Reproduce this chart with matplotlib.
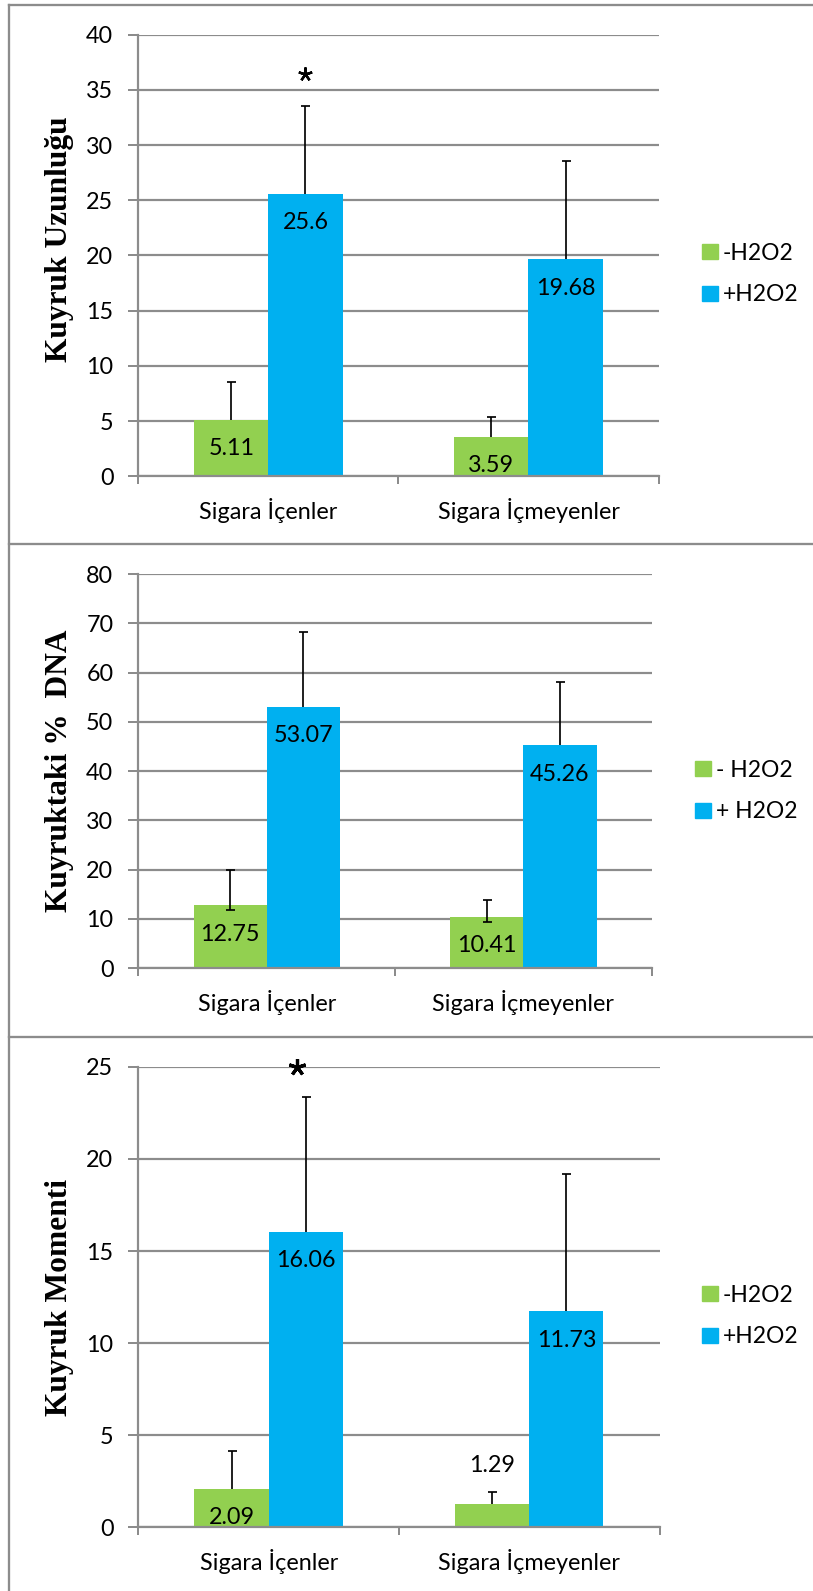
import matplotlib
matplotlib.use("Agg")
import matplotlib.pyplot as plt
import numpy as np
from matplotlib.lines import Line2D
from matplotlib.patches import Patch
from matplotlib.transforms import ScaledTranslation

plt.rcParams["font.family"] = ["Lato", "DejaVu Sans"]

DPI = 100
W, H = 813, 1591

categories = ["Sigara İçenler", "Sigara İçmeyenler"]

# Kuyruk uzunluğu
len_minus = [5.11, 3.59]
len_plus = [25.6, 19.68]
len_minus_err_lo = [0.0, 0.0]
len_minus_err_hi = [3.46, 1.78]
len_plus_err_hi = [7.93, 8.84]

# Kuyruktaki % DNA
dna_minus = [12.75, 10.41]
dna_plus = [53.07, 45.26]
dna_minus_err_lo = [0.97, 1.05]
dna_minus_err_hi = [7.12, 3.46]
dna_plus_err_hi = [15.21, 12.92]

# Kuyruk momenti
mom_minus = [2.09, 1.29]
mom_plus = [16.06, 11.73]
mom_minus_err_lo = [0.0, 0.0]
mom_minus_err_hi = [2.03, 0.65]
mom_plus_err_hi = [7.29, 7.48]

GREEN = "#92D050"
BLUE = "#00B0F0"
GRAY = "#8c8c8c"
BAR_W = 0.285
FS = 16.8
LEG_FS = 16.5


def px(v):
    return v * 72.0 / DPI


fig = plt.figure(figsize=(W / DPI, H / DPI), dpi=DPI)


def fig_rect(left, top, right, bottom):
    return [left / W, 1 - bottom / H, (right - left) / W, (bottom - top) / H]


def draw_panel(rect, minus, plus, m_lo, m_hi, p_hi, ymax, ystep, ylabel,
               ylabel_y, leg_labels, leg_pos, star=None, outside=()):
    ax = fig.add_axes(fig_rect(*rect))
    x = np.arange(len(categories))
    xm = x - BAR_W / 2
    xp = x + BAR_W / 2
    ax.bar(xm, minus, BAR_W, color=GREEN, zorder=2, label=leg_labels[0])
    ax.bar(xp, plus, BAR_W, color=BLUE, zorder=2, label=leg_labels[1])

    # error bars: vertical stems plus caps only where a side exists
    m_lo = np.asarray(m_lo)
    m_hi = np.asarray(m_hi)
    p_hi = np.asarray(p_hi)
    minus = np.asarray(minus)
    plus = np.asarray(plus)
    lw = px(1.7)
    ax.vlines(xm, minus - m_lo, minus + m_hi, color="black", lw=lw, zorder=4)
    ax.vlines(xp, plus, plus + p_hi, color="black", lw=lw, zorder=4)
    cap = dict(marker="_", ms=px(9), mew=lw, color="black", ls="none", zorder=4)
    ax.plot(xm, minus + m_hi, **cap)
    ax.plot(xp, plus + p_hi, **cap)
    has_lo = m_lo > 0
    ax.plot(xm[has_lo], (minus - m_lo)[has_lo], **cap)

    # value labels
    for xi, v, i in zip(np.concatenate([xm, xp]),
                        np.concatenate([minus, plus]),
                        list(range(len(minus))) + [None] * len(plus)):
        if i is not None and i in outside:
            dy = px(38)
        else:
            dy = -px(29)
        ax.annotate(f"{v:g}", xy=(xi, v), xytext=(0, dy),
                    textcoords="offset points", ha="center", va="center",
                    fontsize=FS, color="black", zorder=5)

    if star is not None:
        size, mew, dx, dy = star
        tr = ax.transData + ScaledTranslation(px(dx) / 72, px(dy) / 72,
                                              fig.dpi_scale_trans)
        ax.plot([xp[0]], [plus[0] + p_hi[0]], marker=(5, 2, 0), ms=px(size),
                mew=px(mew), color="black", transform=tr, clip_on=False,
                zorder=5)

    ax.set_xlim(-0.5, len(categories) - 0.5)
    ax.set_ylim(0, ymax)
    ax.set_yticks(np.arange(0, ymax + ystep / 2, ystep))
    ax.set_xticks(x)
    ax.set_xticklabels(categories)
    ax.set_xticks(np.arange(-0.5, len(categories), 1.0), minor=True)
    ax.tick_params(axis="y", length=px(10), width=px(2), color=GRAY,
                   pad=px(15), labelsize=FS)
    ax.tick_params(axis="x", which="major", length=0, pad=px(22),
                   labelsize=FS)
    ax.tick_params(axis="x", which="minor", length=px(8), width=px(2),
                   color=GRAY)
    for s in ("top", "right"):
        ax.spines[s].set_visible(False)
    for s in ("left", "bottom"):
        ax.spines[s].set_color(GRAY)
        ax.spines[s].set_linewidth(px(2.2))
    ax.yaxis.grid(True, color=GRAY, lw=px(2.2))
    ax.set_axisbelow(True)

    fig.text(59 / W, 1 - ylabel_y / H, ylabel, rotation=90, ha="center",
             va="center", fontsize=22.7, fontweight="bold",
             family="Liberation Serif")

    handles = [Patch(color=GREEN), Patch(color=BLUE)]
    fig.legend(handles, leg_labels, loc="center left",
               bbox_to_anchor=(leg_pos[0] / W, 1 - leg_pos[1] / H),
               frameon=False, fontsize=LEG_FS, handlelength=0.68,
               handleheight=0.62, handletextpad=0.22, labelspacing=0.9,
               borderpad=0, borderaxespad=0)
    return ax


draw_panel((138.4, 34.6, 658.5, 476.4), len_minus, len_plus,
           len_minus_err_lo, len_minus_err_hi, len_plus_err_hi,
           40, 5, "Kuyruk Uzunluğu", 239, ["-H2O2", "+H2O2"], (702, 274),
           star=(14, 2.4, 0, 32))

draw_panel((138.4, 574.2, 651.7, 968.1), dna_minus, dna_plus,
           dna_minus_err_lo, dna_minus_err_hi, dna_plus_err_hi,
           80, 10, "Kuyruktaki %  DNA", 771, ["- H2O2", "+ H2O2"], (695, 791))

draw_panel((138.4, 1066.9, 659.5, 1527.3), mom_minus, mom_plus,
           mom_minus_err_lo, mom_minus_err_hi, mom_plus_err_hi,
           25, 5, "Kuyruk Momenti", 1297, ["-H2O2", "+H2O2"], (702, 1316),
           star=(17, 3.2, -9, 30.4), outside=(1,))

# panel frame lines
frame = dict(color=GRAY, lw=px(2.3), transform=fig.transFigure)
for yy in (5.4, 544.3, 1036.8):
    fig.add_artist(Line2D([8.8 / W, 1], [1 - yy / H, 1 - yy / H], **frame))
fig.add_artist(Line2D([8.8 / W, 8.8 / W], [1 - 5.4 / H, 0], **frame))

fig.savefig("out.png", dpi=DPI, facecolor="white")
